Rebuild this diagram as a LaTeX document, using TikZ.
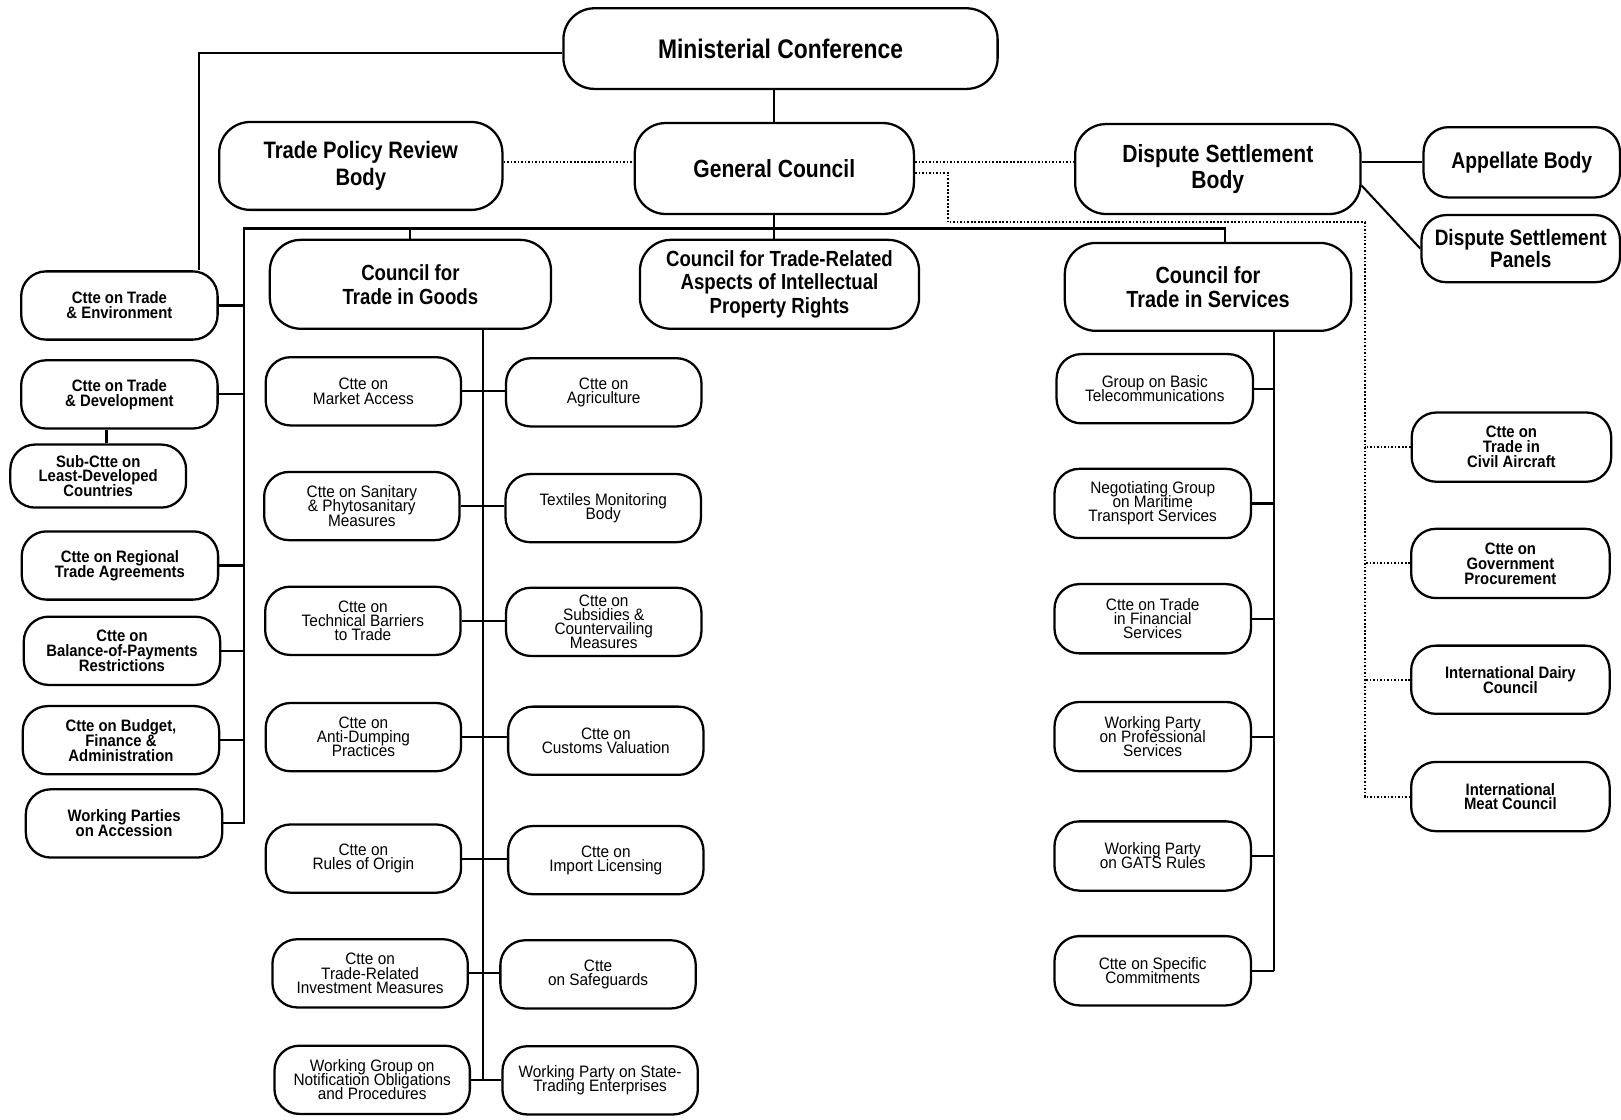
\documentclass[tikz,border=0pt]{standalone}
\usepackage{fontspec}
\setmainfont{Liberation Sans}
\newfontfamily\bigf{Liberation Sans}[FakeStretch=0.85]
\newfontfamily\smb{Liberation Sans}[FakeStretch=0.9]
\newfontfamily\smr{Liberation Sans}[FakeStretch=0.93]
\usetikzlibrary{calc}
\begin{document}
\begin{tikzpicture}[x=0.5pt,y=-0.5pt,
  box/.style={draw, line width=1.1pt, rounded corners=12pt, align=center, inner sep=1pt},
  bigbox/.style={box, rounded corners=15pt},
  sbold/.style={box, minimum width=95pt, minimum height=33pt, font={\smb\bfseries\fontsize{8}{7.2}\selectfont\lineskiplimit=-8pt\lineskip=0pt}},
  sreg/.style={box, minimum width=94.5pt, minimum height=33pt, font={\smr\fontsize{8}{6.8}\selectfont\lineskiplimit=-8pt\lineskip=0pt}},
  conn/.style={line width=1pt},
  dotc/.style={line width=1pt, dash pattern=on 0.8pt off 0.9pt}]
\useasboundingbox (0,0) rectangle (1568,1083);

% top level
\node[bigbox, minimum width=210pt, minimum height=39pt, font={\bigf\bfseries\fontsize{13}{15}\selectfont}] (MC) at (755,47) {Ministerial Conference};
\node[bigbox, minimum width=137pt, minimum height=42.5pt, font={\bigf\bfseries\fontsize{11.5}{13}\selectfont}] (TPRB) at (349,160.5) {Trade Policy Review\\Body};
\node[bigbox, minimum width=135pt, minimum height=44pt, font={\bigf\bfseries\fontsize{12}{13}\selectfont}] (GC) at (749,163) {General Council};
\node[bigbox, minimum width=138pt, minimum height=43.5pt, font={\bigf\bfseries\fontsize{12}{13}\selectfont}] (DSB) at (1178,163.5) {Dispute Settlement\\Body};
\node[box, minimum width=95pt, minimum height=34pt, font={\bigf\bfseries\fontsize{11}{12}\selectfont}] (AB) at (1472,157) {Appellate Body};
\node[box, minimum width=96pt, minimum height=32.5pt, font={\bigf\bfseries\fontsize{10.8}{11}\selectfont}] (DSP) at (1471,240.5) {Dispute Settlement\\Panels};
\node[bigbox, minimum width=136pt, minimum height=43pt, font={\bigf\bfseries\fontsize{10.6}{11.5}\selectfont}] (CG) at (397,275) {Council for\\Trade in Goods};
\node[bigbox, minimum width=135pt, minimum height=43pt, font={\bigf\bfseries\fontsize{10.6}{11.5}\selectfont}] (TRIPS) at (754,275) {Council for Trade-Related\\Aspects of Intellectual\\Property Rights};
\node[bigbox, minimum width=138.5pt, minimum height=42.5pt, font={\bigf\bfseries\fontsize{11.3}{11.5}\selectfont}] (CS) at (1168.5,277.5) {Council for\\Trade in Services};

% left column
\node[sbold] (TE) at (115.5,295.5) {Ctte on Trade\\\& Environment};
\node[sbold] (TD) at (115.5,381.5) {Ctte on Trade\\\& Development};
\node[sbold, minimum width=85pt, minimum height=30.5pt] (LDC) at (95,460.5) {Sub-Ctte on\\Least-Developed\\Countries};
\node[sbold] (RTA) at (116,547) {Ctte on Regional\\Trade Agreements};
\node[sbold] (BOP) at (118,629.5) {Ctte on\\Balance-of-Payments\\Restrictions};
\node[sbold] (BFA) at (117,716) {Ctte on Budget,\\Finance \&\\Administration};
\node[sbold] (WPA) at (120,796.5) {Working Parties\\on Accession};

% goods, left
\node[sreg] (MA) at (351.5,378.5) {Ctte on\\Market Access};
\node[sreg] (SPS) at (350,489.5) {Ctte on Sanitary\\\& Phytosanitary\\Measures};
\node[sreg] (TBT) at (351,600.5) {Ctte on\\Technical Barriers\\to Trade};
\node[sreg] (AD) at (351.5,713) {Ctte on\\Anti-Dumping\\Practices};
\node[sreg] (RO) at (351.5,830.5) {Ctte on\\Rules of Origin};
\node[sreg] (TRIM) at (358,941.5) {Ctte on\\Trade-Related\\Investment Measures};
\node[sreg] (WGN) at (360,1044.5) {Working Group on\\Notification Obligations\\and Procedures};

% goods, right
\node[sreg] (AG) at (584,379.5) {Ctte on\\Agriculture};
\node[sreg] (TMB) at (583.5,491.5) {Textiles Monitoring\\Body};
\node[sreg] (SCM) at (584,601.5) {Ctte on\\Subsidies \&\\Countervailing\\Measures};
\node[sreg] (CV) at (586,716.5) {Ctte on\\Customs Valuation};
\node[sreg] (IL) at (586,832) {Ctte on\\Import Licensing};
\node[sreg] (SG) at (578.5,942.5) {Ctte\\on Safeguards};
\node[sreg] (STE) at (580.5,1045) {Working Party on State-\\Trading Enterprises};

% services
\node[sreg, minimum width=95pt, minimum height=33.5pt] (BT) at (1117,376) {Group on Basic\\Telecommunications};
\node[sreg, minimum width=95pt, minimum height=33.5pt] (MT) at (1115,487) {Negotiating Group\\on Maritime\\Transport Services};
\node[sreg, minimum width=95pt, minimum height=33.5pt] (FS) at (1115,598.5) {Ctte on Trade\\in Financial\\Services};
\node[sreg, minimum width=95pt, minimum height=33.5pt] (PS) at (1115,712.5) {Working Party\\on Professional\\Services};
\node[sreg, minimum width=95pt, minimum height=33.5pt] (GR) at (1115,828) {Working Party\\on GATS Rules};
\node[sreg, minimum width=95pt, minimum height=33.5pt] (SC) at (1115,939) {Ctte on Specific\\Commitments};

% plurilateral
\node[sbold, minimum width=96.5pt, minimum height=33.5pt] (CA) at (1462,432.5) {Ctte on\\Trade in\\Civil Aircraft};
\node[sbold, minimum width=96pt, minimum height=33.5pt] (GP) at (1461,545) {Ctte on\\Government\\Procurement};
\node[sbold, minimum width=96pt, minimum height=33pt] (DC) at (1461,657.5) {International Dairy\\Council};
\node[sbold, minimum width=96pt, minimum height=33.5pt] (MTC) at (1461,770.5) {International\\Meat Council};

% connectors
\coordinate (busL) at (236,221);
\coordinate (busR) at (1185,221);
\coordinate (gd) at (917,215);
\coordinate (pv) at (1320,215);

\draw[conn] ([yshift=-2pt]MC.west) -| ([xshift=-9.75pt]TE.north east);
\draw[conn] (GC.north) -- (GC.north |- MC.south);
\draw[conn] (GC.south) -- (GC.south |- TRIPS.north);
\draw[conn] (busR |- CS.north) -- (busR) -- (busL) -- (busL |- WPA.east) -- (WPA.east);
\draw[conn] (CG.north) -- (CG.north |- busL);
\foreach \n in {TE,TD,RTA,BOP,BFA} \draw[conn] (\n.east) -- (\n.east -| busL);
\draw[conn] ([xshift=-6.25pt]TD.south) -- ([xshift=-6.25pt]TD.south |- LDC.north);

\draw[conn] (AB.west -| DSB.east) -- (AB.west);
\draw[conn] ([yshift=-8pt]DSB.east) -- (DSP.west);

% goods
\draw[conn] ([xshift=35pt]CG.south) coordinate (gtop) -- (gtop |- WGN.east);
\foreach \a/\b in {MA/AG,SPS/TMB,TBT/SCM,AD/CV,RO/IL,TRIM/SG,WGN/STE}
  \draw[conn] (\a.east) -- (\a.east -| \b.west);

% services
\draw[conn] ([xshift=31.75pt]CS.south) coordinate (stop) -- (stop |- SC.east);
\foreach \n in {BT,MT,FS,PS,GR,SC} \draw[conn] (\n.east) -- (\n.east -| stop);

% dotted
\draw[dotc] ([yshift=1.75pt]TPRB.east) -- ([yshift=1.75pt]TPRB.east -| GC.west);
\draw[dotc] ([yshift=3pt]GC.east) -- ([yshift=3pt]GC.east -| DSB.west);
\draw[dotc] ([yshift=-2pt]GC.east) -- ([yshift=-2pt]GC.east -| gd) -- (gd) -- (pv) -- (pv |- MTC.west) -- (MTC.west);
\foreach \n in {CA,GP,DC} \draw[dotc] (\n.west) -- (\n.west -| pv);
\end{tikzpicture}
\end{document}
